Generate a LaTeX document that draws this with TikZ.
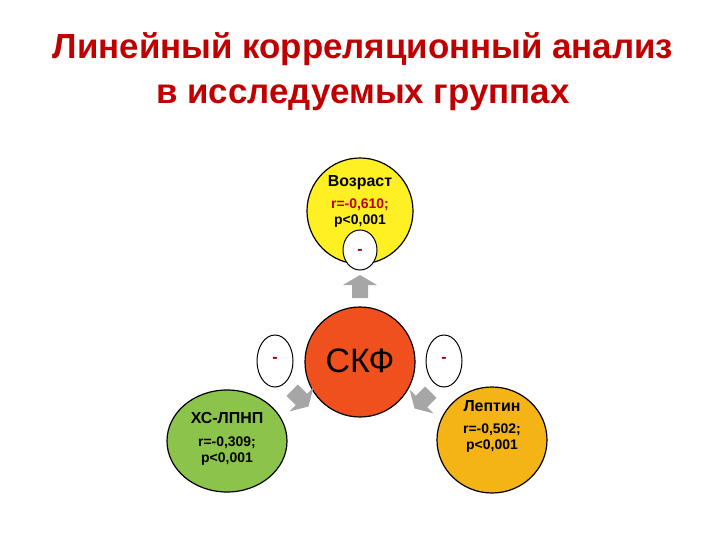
\documentclass[tikz,border=0pt]{standalone}
\usepackage{fontspec}
\setmainfont{Liberation Sans}
\definecolor{skf}{HTML}{F0501E}
\definecolor{grn}{HTML}{8CC34B}
\definecolor{org}{HTML}{F5B416}
\definecolor{yel}{HTML}{FFF023}
\definecolor{ttl}{HTML}{C00000}
\begin{document}
\begin{tikzpicture}[x=1bp,y=-1bp,
  sign/.style={draw=black,fill=white,line width=1pt},
  arr/.style={fill=black!35,draw=none},
  lbl/.style={font=\bfseries\fontsize{16}{18}\selectfont,align=center},
  val/.style={font=\bfseries\fontsize{14}{16}\selectfont,align=center},
  sg/.style={text=red!60!black,font=\bfseries\fontsize{16}{16}\selectfont}]
\useasboundingbox (0,0) rectangle (720,540);
\node[font=\bfseries\fontsize{35}{45}\selectfont,text=ttl,align=center] (title) at (363,72) {Линейный корреляционный анализ\\в исследуемых группах};
\draw[fill=yel,line width=1.2pt] (360,211) circle[radius=53];
\draw[sign] (360,250) ellipse[x radius=17,y radius=20];
\node[sg] (s1) at (360,252) {-};
\node[lbl] (t1) at (360,183) {Возраст};
\node[val] (v1) at (360,213) {\textcolor{ttl}{r=-0,610;}\\p<0,001};
\draw[fill=skf,line width=1.2pt] (360,362) circle[radius=55];
\node[font=\fontsize{34}{34}\selectfont] (skf) at (360,361) {СКФ};
\draw[sign] (275,361) ellipse[x radius=18,y radius=26];
\node[sg] (s2) at (275,360) {-};
\draw[sign] (444,361) ellipse[x radius=18,y radius=26];
\node[sg] (s3) at (444,360) {-};
\draw[fill=grn,line width=1.2pt] (227,441) ellipse[x radius=60,y radius=51];
\node[lbl] (t2) at (227,418) {ХС-ЛПНП};
\node[val] (v2) at (227,451) {r=-0,309;\\p<0,001};
\draw[fill=org,line width=1.2pt] (492,440) ellipse[x radius=55,y radius=53];
\node[lbl] (t3) at (492,406) {Лептин};
\node[val] (v3) at (492,438) {r=-0,502;\\p<0,001};
\foreach \c/\a in {{(360,287)}/0,{(300,398)}/-135,{(423,400)}/135}{
  \fill[arr,shift={\c},rotate=\a] (-8,11) -- (-8,-2) -- (-17,-2) -- (0,-12) -- (17,-2) -- (8,-2) -- (8,11) -- cycle;
}
\end{tikzpicture}
\end{document}
